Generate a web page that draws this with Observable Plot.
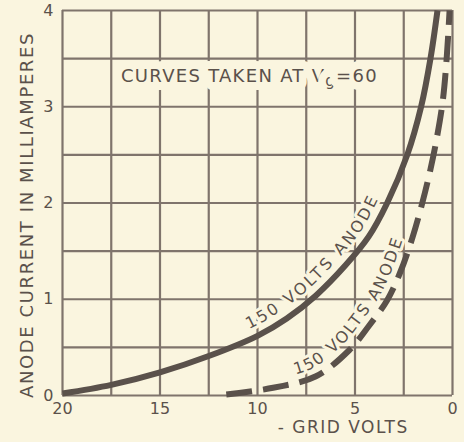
<!DOCTYPE html>
<html><head><meta charset="utf-8">
<script src="https://cdn.jsdelivr.net/npm/d3@7"></script>
<script src="https://cdn.jsdelivr.net/npm/@observablehq/plot@0.6"></script>
<style>
html,body{margin:0;padding:0;background:#faf5df;}
#chart svg{display:block;}
</style></head><body><div id="chart"></div>
<script>
// ---- data ----
const solidX  = [20, 17.5, 15, 12.5, 10, 8.5, 7.0, 5.5, 4.3, 3.35, 2.32, 1.61, 1.13, 0.77];
const solidY  = [0.02, 0.11, 0.24, 0.41, 0.62, 0.8, 1.04, 1.35, 1.65, 2.0, 2.5, 3.0, 3.5, 4.0];
const dashedX = [11.6, 9.2, 7.0, 5.3, 4.3, 3.35, 2.7, 2.07, 1.55, 1.13, 0.8, 0.5, 0.3, 0.15];
const dashedY = [0.01, 0.08, 0.2, 0.47, 0.72, 0.99, 1.27, 1.63, 2.0, 2.35, 2.68, 3.06, 3.5, 4.0];
const xTicks = [20, 15, 10, 5, 0];
const yTicks = [0, 1, 2, 3, 4];
const gridX = [20, 17.5, 15, 12.5, 10, 7.5, 5, 2.5, 0];
const gridY = [0, 0.5, 1, 1.5, 2, 2.5, 3, 3.5, 4];
const curveLabels = ["150 VOLTS ANODE", "150 VOLTS ANODE"];
const curveLabelStart = [10.2, 7.9];
const noteText = ["CURVES TAKEN AT Vg=60"];
const noteX = [17.0];
const noteY = [3.32];
const yTitle = ["ANODE CURRENT IN MILLIAMPERES"];
const xTitle = ["- GRID VOLTS"];
const xTitleAt = [5.6];

// ---- styles ----
const paper = "#faf5df", ink = "#5a514b", gridCol = "#7f746c";
const font = "DejaVu Sans";

const solid = solidX.map((x, i) => ({x, y: solidY[i]}));
const dashed = dashedX.map((x, i) => ({x, y: dashedY[i]}));
const note = noteText.map((t, i) => ({x: noteX[i], y: noteY[i], text: t}));
const xt = xTitle.map((t, i) => ({x: xTitleAt[i], text: t}));

const plot = Plot.plot({
  width: 464, height: 442,
  marginLeft: 62, marginRight: 12, marginTop: 10, marginBottom: 47,
  style: {background: paper, color: ink, fontFamily: font, overflow: "visible"},
  x: {domain: [20, 0]},
  y: {domain: [0, 4]},
  marks: [
    Plot.ruleX(gridX, {stroke: gridCol, strokeWidth: 2.2}),
    Plot.text(note, {x: "x", y: "y", text: "text", textAnchor: "start", fontSize: 18,
      fill: ink, stroke: paper, strokeWidth: 16, strokeLinejoin: "round"}),
    Plot.ruleY(gridY, {stroke: gridCol, strokeWidth: 2.2}),
    Plot.line(solid, {x: "x", y: "y", stroke: ink, strokeWidth: 6, curve: "catmull-rom", strokeLinecap: "butt"}),
    Plot.line(dashed, {x: "x", y: "y", stroke: ink, strokeWidth: 6, curve: "catmull-rom",
      strokeDasharray: "26,11", strokeLinecap: "butt"}),
    Plot.axisX(xTicks, {tickSize: 0, tickPadding: 7, fontSize: 16, label: null}),
    Plot.axisY(yTicks, {tickSize: 0, tickPadding: 9, fontSize: 16, label: null, tickFormat: d => String(d)}),
    Plot.text(yTitle, {frameAnchor: "left", textAnchor: "middle", rotate: -90, dx: -35, dy: 12, fontSize: 18, fill: ink}),
    Plot.text(xt, {x: "x", text: "text", frameAnchor: "bottom", textAnchor: "middle", dy: 37, fontSize: 17, fill: ink})
  ]
});
document.getElementById("chart").appendChild(plot);

const ns = "http://www.w3.org/2000/svg";
function fit(el, target) {
  el.setAttribute("letter-spacing", 0);
  const len = el.getComputedTextLength();
  const n = el.textContent.length;
  el.setAttribute("letter-spacing", ((target - len) / n).toFixed(2));
}

// note with subscript g
const texts = [...plot.querySelectorAll("text")];
const noteEl = texts.find(t => t.textContent === noteText[0]);
if (noteEl) {
  noteEl.textContent = "";
  const a = document.createElementNS(ns, "tspan"); a.textContent = "CURVES TAKEN AT V";
  const b = document.createElementNS(ns, "tspan"); b.textContent = "g"; b.setAttribute("dy", 4); b.setAttribute("font-size", 15);
  const c = document.createElementNS(ns, "tspan"); c.textContent = "=60"; c.setAttribute("dy", -4);
  noteEl.append(a, b, c);
  fit(noteEl, 257);
}
const yEl = texts.find(t => t.textContent === yTitle[0]);
if (yEl) fit(yEl, 366);
const xEl = texts.find(t => t.textContent === xTitle[0]);
if (xEl) fit(xEl, 131);

// curve labels along the curves
const lineGs = [...plot.querySelectorAll('g[aria-label="line"]')];
const paths = lineGs.map(g => g.querySelector("path"));
const xs = plot.scale("x");
const labelG = document.createElementNS(ns, "g");
labelG.setAttribute("text-anchor", "start");
lineGs[0].parentNode.insertBefore(labelG, lineGs[0]);
const targets = [195, 188];
const offsets = [-9, -8];
function lengthAtX(path, px) {
  let lo = 0, hi = path.getTotalLength();
  for (let i = 0; i < 40; i++) {
    const mid = (lo + hi) / 2;
    if (path.getPointAtLength(mid).x < px) lo = mid; else hi = mid;
  }
  return lo;
}
paths.forEach((p, i) => {
  p.id = "curve" + i;
  const off = lengthAtX(p, xs.apply(curveLabelStart[i]));
  const t = document.createElementNS(ns, "text");
  t.setAttribute("font-family", font);
  t.setAttribute("font-size", 16);
  t.setAttribute("text-anchor", "start");
  t.setAttribute("fill", ink);
  t.setAttribute("stroke", paper);
  t.setAttribute("stroke-width", 6);
  t.setAttribute("stroke-linejoin", "round");
  t.setAttribute("paint-order", "stroke");
  const tp = document.createElementNS(ns, "textPath");
  tp.setAttribute("href", "#curve" + i);
  tp.setAttributeNS("http://www.w3.org/1999/xlink", "xlink:href", "#curve" + i);
  tp.setAttribute("startOffset", off);
  const ts = document.createElementNS(ns, "tspan");
  ts.setAttribute("dy", offsets[i]);
  ts.textContent = curveLabels[i];
  tp.appendChild(ts);
  t.appendChild(tp);
  labelG.appendChild(t);
  fit(t, targets[i]);
});
</script></body></html>
